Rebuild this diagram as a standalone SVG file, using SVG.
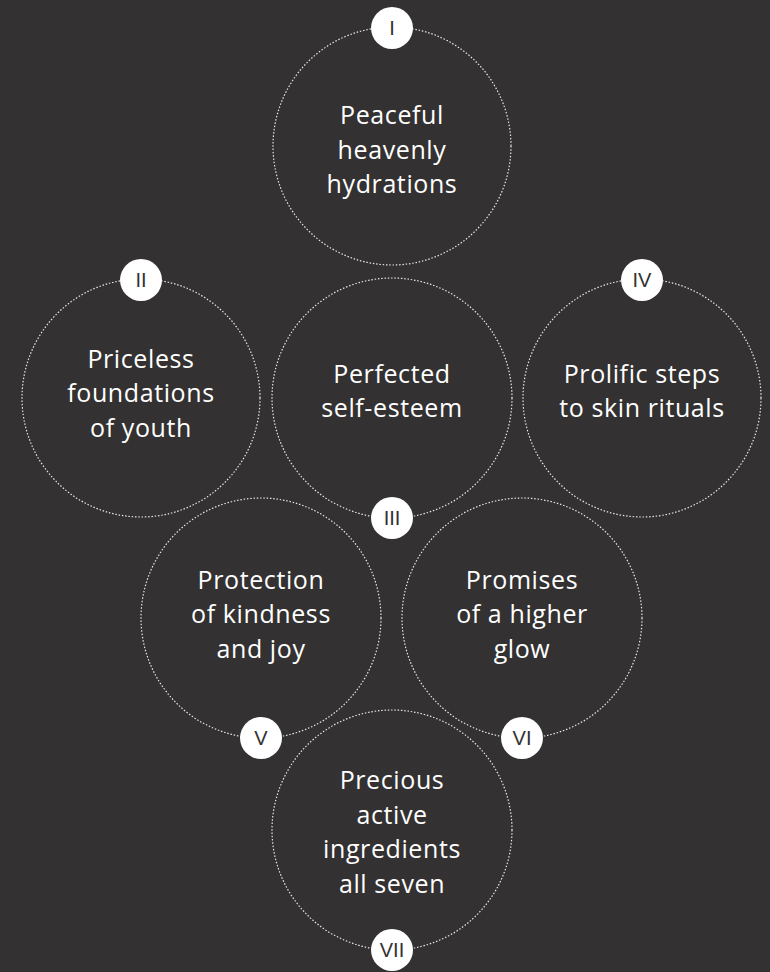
<svg xmlns="http://www.w3.org/2000/svg" width="770" height="972" viewBox="0 0 770 972">
<style>
.ring{fill:none;stroke:#e8e8e8;stroke-width:1.2;stroke-dasharray:1.5 1.8}
.lbl{font-family:"Open Sans",Lato,sans-serif;font-size:25px;fill:#ffffff;text-anchor:middle;letter-spacing:0.6px}
.bd{fill:#ffffff}
.bt{font-family:"Liberation Sans",Arial,sans-serif;font-size:20px;fill:#333131;text-anchor:middle}
</style>
<rect width="770" height="972" fill="#333131"/>
<g id="connectors"/>
<g id="n1">
<circle class="ring" cx="392" cy="146" r="119"/>
<text class="lbl" x="392" y="124">Peaceful</text>
<text class="lbl" x="392" y="159">heavenly</text>
<text class="lbl" x="392" y="193">hydrations</text>
<circle class="bd" cx="392" cy="28" r="21"/>
<text class="bt" x="392" y="35">I</text>
</g>
<g id="n2">
<circle class="ring" cx="141" cy="398" r="119"/>
<text class="lbl" x="141" y="368">Priceless</text>
<text class="lbl" x="141" y="402">foundations</text>
<text class="lbl" x="141" y="437">of youth</text>
<circle class="bd" cx="141" cy="280" r="21"/>
<text class="bt" x="141" y="287">II</text>
</g>
<g id="n3">
<circle class="ring" cx="392" cy="398" r="120"/>
<text class="lbl" x="392" y="383">Perfected</text>
<text class="lbl" x="392" y="417">self-esteem</text>
<circle class="bd" cx="392" cy="518" r="21"/>
<text class="bt" x="392" y="525">III</text>
</g>
<g id="n4">
<circle class="ring" cx="642" cy="398" r="119"/>
<text class="lbl" x="642" y="383">Prolific steps</text>
<text class="lbl" x="642" y="417">to skin rituals</text>
<circle class="bd" cx="642" cy="280" r="21"/>
<text class="bt" x="642" y="287">IV</text>
</g>
<g id="n5">
<circle class="ring" cx="261" cy="618" r="120"/>
<text class="lbl" x="261" y="589">Protection</text>
<text class="lbl" x="261" y="623">of kindness</text>
<text class="lbl" x="261" y="658">and joy</text>
<circle class="bd" cx="261" cy="738" r="21"/>
<text class="bt" x="261" y="745">V</text>
</g>
<g id="n6">
<circle class="ring" cx="522" cy="618" r="120"/>
<text class="lbl" x="522" y="589">Promises</text>
<text class="lbl" x="522" y="623">of a higher</text>
<text class="lbl" x="522" y="658">glow</text>
<circle class="bd" cx="522" cy="738" r="21"/>
<text class="bt" x="522" y="745">VI</text>
</g>
<g id="n7">
<circle class="ring" cx="392" cy="830" r="120"/>
<text class="lbl" x="392" y="789">Precious</text>
<text class="lbl" x="392" y="824">active</text>
<text class="lbl" x="392" y="858">ingredients</text>
<text class="lbl" x="392" y="893">all seven</text>
<circle class="bd" cx="392" cy="950" r="21"/>
<text class="bt" x="392" y="957">VII</text>
</g>
</svg>
